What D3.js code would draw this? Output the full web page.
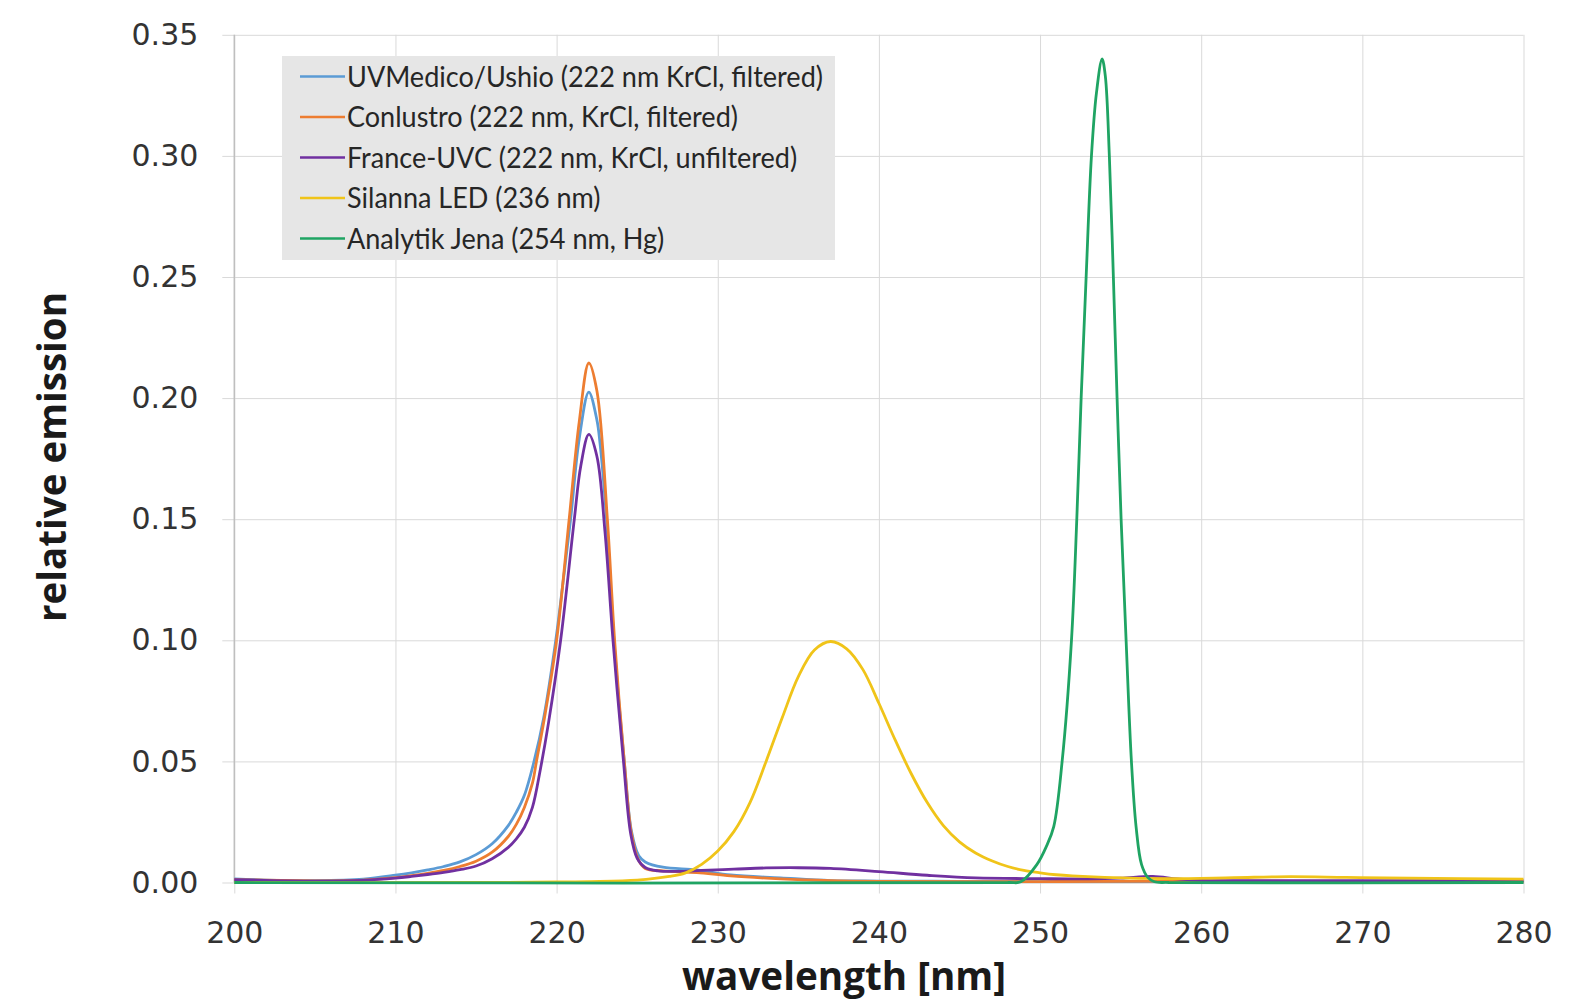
<!DOCTYPE html>
<html>
<head>
<meta charset="utf-8">
<script src="https://cdn.jsdelivr.net/npm/d3@7"></script>
<style>
  body { margin: 0; background: #fff; }
  svg { display: block; }
</style>
</head>
<body>
<svg id="chart"></svg>
<script>
// Tick labels
const xTicks = [200, 210, 220, 230, 240, 250, 260, 270, 280];
const yTicks = [0, 0.05, 0.10, 0.15, 0.20, 0.25, 0.30, 0.35];

// Series names and colours
const seriesNames = [
  "UVMedico/Ushio (222 nm KrCl, filtered)",
  "Conlustro (222 nm, KrCl, filtered)",
  "France-UVC (222 nm, KrCl, unfiltered)",
  "Silanna LED (236 nm)",
  "Analytik Jena (254 nm, Hg)"
];
const seriesColors = ["#5b9bd5", "#ed7d31", "#7030a0", "#f0c419", "#1fa463"];

// UVMedico/Ushio
const uvMedicoWl  = [200, 202, 205, 208, 210, 211, 212, 213, 214, 215, 216, 217, 217.5, 218.0, 218.6, 219.2, 219.95, 220.4, 220.87, 221.4, 222.0, 222.5, 222.7, 223.1, 223.56, 224.2, 224.65, 225.1, 225.5, 226.6, 228.7, 230.8, 233.9, 237, 240, 245, 250, 260, 270, 280];
const uvMedicoVal = [0.0015, 0.0010, 0.0008, 0.0014, 0.0030, 0.0040, 0.0052, 0.0066, 0.0085, 0.0115, 0.0160, 0.0235, 0.029, 0.036, 0.050, 0.068, 0.100, 0.124, 0.150, 0.183, 0.2025, 0.191, 0.181, 0.150, 0.100, 0.050, 0.021, 0.011, 0.0085, 0.0063, 0.0052, 0.0031, 0.0019, 0.0008, 0.0006, 0.0005, 0.0004, 0.0003, 0.0002, 0.0002];

// Conlustro
const conlustroWl  = [200, 205, 208, 210, 211, 212, 213, 214, 215, 216, 217, 217.5, 218.0, 218.5, 218.75, 219.3, 220.0, 220.78, 221.4, 222.0, 222.5, 223.15, 223.6, 224.2, 224.65, 225.1, 225.5, 226.6, 228.7, 230.8, 233.9, 237, 240, 250, 260, 270, 280];
const conlustroVal = [0.0012, 0.0007, 0.0010, 0.0020, 0.0028, 0.0038, 0.0050, 0.0066, 0.0088, 0.0125, 0.0190, 0.024, 0.031, 0.041, 0.050, 0.070, 0.100, 0.150, 0.190, 0.2145, 0.203, 0.150, 0.100, 0.050, 0.020, 0.009, 0.0058, 0.0048, 0.0041, 0.0027, 0.0015, 0.0008, 0.0005, 0.0004, 0.0006, 0.0004, 0.0003];

// France-UVC
const franceWl  = [200, 205, 208, 210, 211, 212, 213, 214, 215, 216, 217, 217.5, 218.0, 218.5, 219.0, 219.5, 220.25, 221.1, 221.5, 222.0, 222.5, 223.0, 223.5, 224.15, 224.6, 225.0, 225.5, 226.3, 227.5, 229, 231, 233, 235, 237, 240, 243, 246, 250, 253, 255, 257, 258.5, 260, 270, 280];
const franceVal = [0.0012, 0.0006, 0.0009, 0.0018, 0.0025, 0.0033, 0.0042, 0.0053, 0.0068, 0.0098, 0.0145, 0.018, 0.0228, 0.031, 0.047, 0.066, 0.100, 0.150, 0.172, 0.185, 0.176, 0.145, 0.100, 0.050, 0.020, 0.010, 0.0062, 0.0048, 0.0046, 0.0050, 0.0055, 0.0060, 0.0061, 0.0058, 0.0045, 0.0030, 0.0019, 0.0016, 0.0015, 0.0018, 0.0025, 0.0015, 0.0009, 0.0008, 0.0008];

// Silanna LED
const silannaWl  = [200, 215, 220, 222, 225, 227, 228, 229, 230, 231, 232, 233, 234, 235, 236, 237, 238, 239, 240, 241, 242, 243, 244, 245, 246, 247, 248, 249, 250, 251, 252, 254, 258, 262, 265.5, 269, 273, 280];
const silannaVal = [0, 0, 0.0002, 0.0004, 0.0010, 0.0025, 0.0040, 0.0075, 0.0130, 0.0210, 0.0330, 0.050, 0.068, 0.085, 0.096, 0.0995, 0.0965, 0.088, 0.074, 0.059, 0.045, 0.033, 0.0235, 0.0168, 0.0122, 0.0090, 0.0066, 0.0050, 0.0040, 0.0032, 0.0027, 0.0021, 0.0016, 0.0020, 0.0024, 0.0021, 0.0018, 0.0014];

// Analytik Jena
const jenaWl  = [200, 248, 248.8, 249.8, 250.4, 250.85, 251.37, 251.95, 252.28, 252.55, 252.86, 253.19, 253.5, 253.85, 254.05, 254.3, 254.55, 254.78, 255.03, 255.34, 255.67, 255.96, 256.3, 256.7, 257.1, 258, 280];
const jenaVal = [0, 0, 0.0003, 0.0074, 0.015, 0.0231, 0.050, 0.100, 0.150, 0.200, 0.250, 0.300, 0.326, 0.340, 0.333, 0.300, 0.250, 0.200, 0.150, 0.100, 0.050, 0.023, 0.0074, 0.002, 0.0003, 0, 0];

const seriesWl  = [uvMedicoWl, conlustroWl, franceWl, silannaWl, jenaWl];
const seriesVal = [uvMedicoVal, conlustroVal, franceVal, silannaVal, jenaVal];

const W = 1578, H = 1006;
const plot = { left: 234.3, right: 1523.5, top: 34.8, bottom: 882.5 };

const svg = d3.select("#chart").attr("width", W).attr("height", H);

// Skalaer
const x = d3.scaleLinear().domain([200, 280]).range([plot.left, plot.right]);
const y = d3.scaleLinear().domain([0, 0.35]).range([plot.bottom, plot.top]);

const tickFont = "'DejaVu Sans', sans-serif";

// Horizontal grid + y labels
const yAxis = svg.append("g")
  .attr("transform", `translate(${plot.left - 12},0)`)
  .call(d3.axisLeft(y).tickValues(yTicks).tickFormat(d3.format(".2f"))
    .tickSize(-(plot.right - plot.left + 12)).tickPadding(24));
yAxis.select(".domain").remove();
yAxis.selectAll("line").attr("stroke", "#d9d9d9");
yAxis.selectAll("text")
  .attr("font-family", tickFont).attr("font-size", 30).attr("fill", "#333");

// Vertical grid + x labels
const xAxis = svg.append("g")
  .attr("transform", `translate(0,${plot.bottom + 11})`)
  .call(d3.axisBottom(x).tickValues(xTicks)
    .tickSize(-(plot.bottom - plot.top + 11)).tickPadding(28));
xAxis.select(".domain").remove();
xAxis.selectAll("line").attr("stroke", "#d9d9d9");
xAxis.selectAll("text")
  .attr("font-family", tickFont).attr("font-size", 30).attr("fill", "#333");

// Axis lines
svg.append("line")
  .attr("x1", plot.left).attr("x2", plot.left)
  .attr("y1", plot.top).attr("y2", plot.bottom)
  .attr("stroke", "#bfbfbf").attr("stroke-width", 1.5);
svg.append("line")
  .attr("x1", plot.left).attr("x2", plot.right)
  .attr("y1", plot.bottom).attr("y2", plot.bottom)
  .attr("stroke", "#bfbfbf").attr("stroke-width", 1.5);

// Curves (smoothed like the spreadsheet lines)
const line = d3.line()
  .x(d => x(d[0]))
  .y(d => y(d[1]))
  .curve(d3.curveCatmullRom.alpha(0.5));

seriesWl.forEach((wl, i) => {
  const pts = wl.map((w, j) => [w, seriesVal[i][j]]);
  svg.append("path")
    .datum(pts)
    .attr("d", line)
    .attr("fill", "none")
    .attr("stroke", seriesColors[i])
    .attr("stroke-width", 2.8)
    .attr("stroke-linejoin", "round");
});

// Legend
const legend = svg.append("g");
legend.append("rect")
  .attr("x", 282).attr("y", 56).attr("width", 553).attr("height", 204)
  .attr("fill", "#e6e6e6");

const legendFont = "Lato, 'Open Sans', sans-serif";
const rows = legend.selectAll("g.row").data(seriesNames).enter()
  .append("g").attr("class", "row")
  .attr("transform", (d, i) => `translate(0,${76.5 + i * 40.5})`);
rows.append("line")
  .attr("x1", 300).attr("x2", 345).attr("y1", 0).attr("y2", 0)
  .attr("stroke", (d, i) => seriesColors[i]).attr("stroke-width", 2.6);
const legendText = rows.append("text")
  .attr("x", 347).attr("y", 0).attr("dy", "0.36em")
  .attr("font-family", legendFont).attr("font-size", 28).attr("fill", "#262626")
  .text(d => d);
// squeeze the legend text to the width of the widest entry in the picture
const widest = d3.max(legendText.nodes(), n => n.getComputedTextLength());
const squeeze = 476 / widest;
legendText.each(function () {
  const len = this.getComputedTextLength();
  d3.select(this).attr("textLength", len * squeeze).attr("lengthAdjust", "spacingAndGlyphs");
});

// Axis titles
const titleFont = "'Open Sans', Lato, sans-serif";
svg.append("text")
  .attr("x", 844).attr("y", 990)
  .attr("text-anchor", "middle")
  .attr("font-family", titleFont).attr("font-weight", "bold").attr("font-size", 40)
  .attr("fill", "#1a1a1a")
  .attr("textLength", 324).attr("lengthAdjust", "spacingAndGlyphs")
  .text("wavelength [nm]");

svg.append("text")
  .attr("transform", "translate(66,457) rotate(-90)")
  .attr("text-anchor", "middle")
  .attr("font-family", titleFont).attr("font-weight", "bold").attr("font-size", 40)
  .attr("fill", "#1a1a1a")
  .attr("textLength", 330).attr("lengthAdjust", "spacingAndGlyphs")
  .text("relative emission");
</script>
</body>
</html>
